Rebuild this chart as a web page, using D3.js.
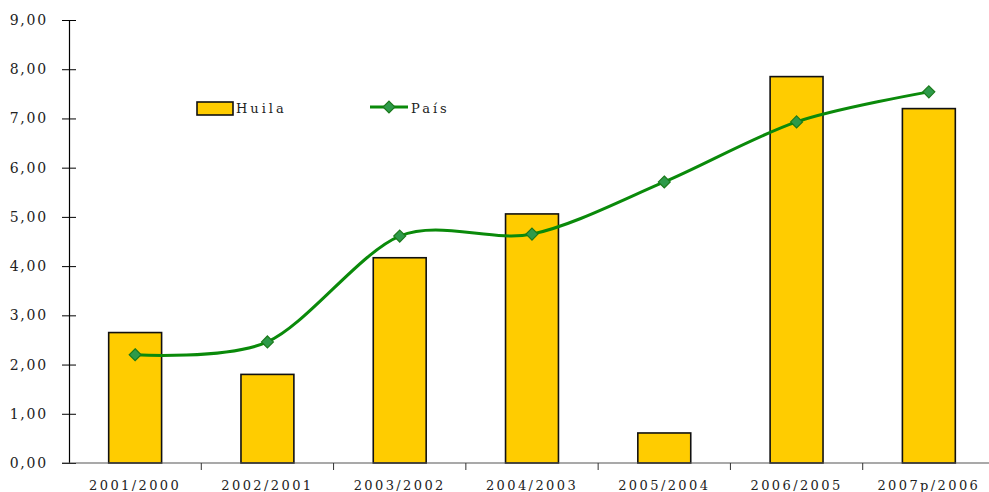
<!DOCTYPE html>
<html>
<head>
<meta charset="utf-8">
<script src="https://cdn.jsdelivr.net/npm/d3@7"></script>
<style>
  body { margin: 0; background: #fff; }
  svg text { font-family: "DejaVu Serif", serif; font-size: 13px; letter-spacing: 2.4px; fill: #222; }
</style>
</head>
<body>
<svg id="chart" width="989" height="492"></svg>
<script>
const categories = ['2001/2000', '2002/2001', '2003/2002', '2004/2003', '2005/2004', '2006/2005', '2007p/2006']
const huila = [2.65, 1.80, 4.17, 5.06, 0.61, 7.85, 7.20]
const pais = [2.20, 2.46, 4.61, 4.65, 5.71, 6.93, 7.54]
const yTicks = [0, 1, 2, 3, 4, 5, 6, 7, 8, 9]

const margin = { top: 20, bottom: 29, left: 69 }
const width = 989, height = 492
const svg = d3.select('#chart')

const xScale = d3.scaleBand() // one band per period, last band runs past the right edge
  .domain(categories)
  .range([margin.left, 995])

const yScale = d3.scaleLinear()
  .domain([0, 9])
  .range([height - margin.bottom, margin.top])

const fmt = (t) => t.toFixed(2).replace('.', ',')
const mid = (i) => xScale(categories[i]) + xScale.bandwidth() / 2

// y axis
const gY = svg.append('g')
  .attr('transform', `translate(${margin.left},0)`)
  .call(d3.axisLeft(yScale).tickValues(yTicks).tickSize(7).tickPadding(14).tickFormat(fmt))
gY.select('.domain').attr('stroke', '#000').attr('stroke-width', 1.2)
gY.selectAll('.tick line').attr('x2', 7).attr('x1', -7).attr('stroke', '#000')
gY.selectAll('.tick text').style('font-size', '14px').style('letter-spacing', '1.8px')

// bars
svg.append('g').selectAll('rect')
  .data(huila)
  .join('rect')
  .attr('x', (d, i) => xScale(categories[i]) + xScale.bandwidth() * 0.3)
  .attr('width', xScale.bandwidth() * 0.4)
  .attr('y', (d) => yScale(d))
  .attr('height', (d) => yScale(0) - yScale(d))
  .attr('fill', '#FFCC00')
  .attr('stroke', '#111')
  .attr('stroke-width', 1.6)

// x axis
const gX = svg.append('g')
  .attr('transform', `translate(0,${yScale(0)})`)
gX.append('line')
  .attr('x1', margin.left - 7).attr('x2', width)
  .attr('stroke', '#555').attr('stroke-width', 1.2)
gX.selectAll('.bound')
  .data(categories.slice(1))
  .join('line')
  .attr('class', 'bound')
  .attr('x1', (d) => xScale(d)).attr('x2', (d) => xScale(d))
  .attr('y1', 0).attr('y2', 7)
  .attr('stroke', '#333')
gX.selectAll('text')
  .data(categories)
  .join('text')
  .attr('x', (d, i) => mid(i))
  .attr('y', 27)
  .attr('text-anchor', 'middle')
  .text((d) => d)

// país line
const line = d3.line()
  .curve(d3.curveCardinal.tension(0.1))
  .x((d, i) => mid(i))
  .y((d) => yScale(d))

svg.append('path')
  .datum(pais)
  .attr('d', line)
  .attr('fill', 'none')
  .attr('stroke', '#0A8A0A')
  .attr('stroke-width', 3)

const diamond = d3.symbol().type(d3.symbolDiamond2).size(90)
svg.append('g').selectAll('path')
  .data(pais)
  .join('path')
  .attr('d', diamond)
  .attr('transform', (d, i) => `translate(${mid(i)},${yScale(d)})`)
  .attr('fill', '#2E9A4A')
  .attr('stroke', '#1B7A1B')
  .attr('stroke-width', 1.2)

// legend
const legend = svg.append('g')
legend.append('rect')
  .attr('x', 197).attr('y', 102).attr('width', 36).attr('height', 13)
  .attr('fill', '#FFCC00').attr('stroke', '#111').attr('stroke-width', 1.6)
legend.append('text').attr('x', 236).attr('y', 113).style('letter-spacing', '3px').text('Huila')
legend.append('line')
  .attr('x1', 370).attr('x2', 408).attr('y1', 107).attr('y2', 107)
  .attr('stroke', '#0A8A0A').attr('stroke-width', 3)
legend.append('path')
  .attr('d', diamond)
  .attr('transform', 'translate(389,107)')
  .attr('fill', '#2E9A4A').attr('stroke', '#1B7A1B').attr('stroke-width', 1.2)
legend.append('text').attr('x', 411).attr('y', 113).style('letter-spacing', '3px').text('País')
</script>
</body>
</html>
